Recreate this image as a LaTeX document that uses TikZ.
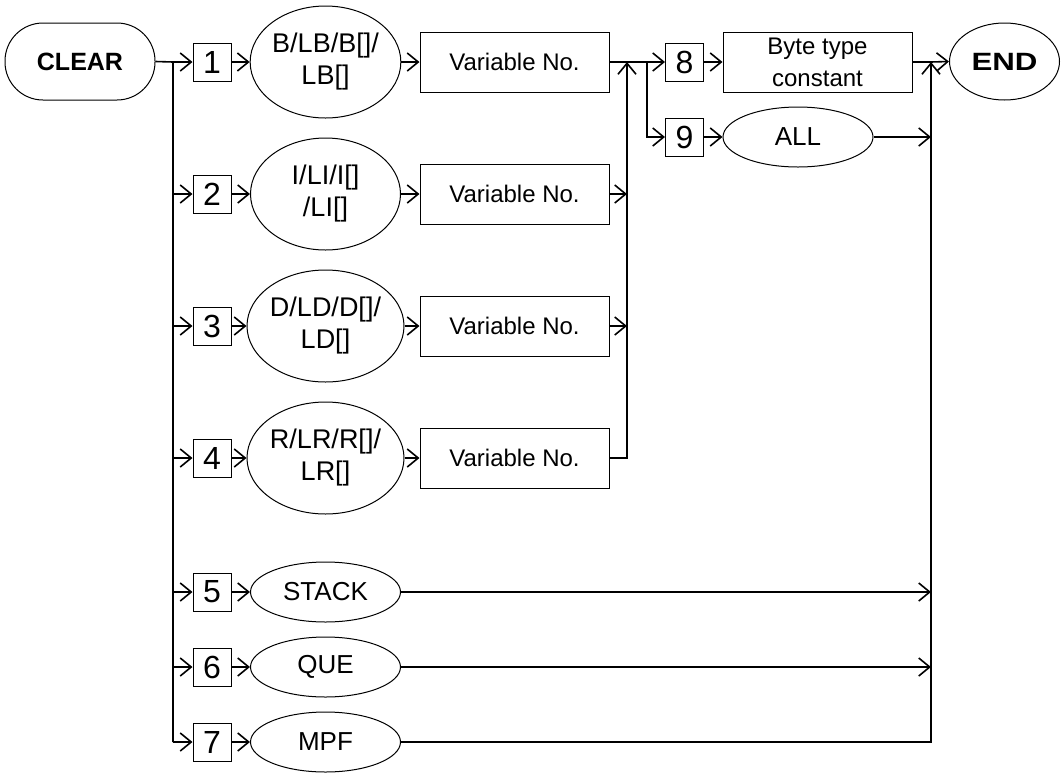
\documentclass[tikz,border=0pt]{standalone}
\usepackage{graphicx}
\usepackage{fontspec}
\setmainfont{Liberation Sans}
\usetikzlibrary{arrows.meta,positioning,shapes.geometric}

\tikzset{
  numbox/.style={draw, line width=1pt, minimum width=38pt, minimum height=38pt, inner sep=0pt, font=\fontsize{32}{32}\selectfont},
  tallell/.style={draw, ellipse, line width=1pt, minimum width=150pt, minimum height=112pt, inner sep=0pt, align=center, font=\fontsize{27}{32}\selectfont},
  flatell/.style={draw, ellipse, line width=1pt, minimum width=150pt, minimum height=60pt, inner sep=0pt, font=\fontsize{26}{30}\selectfont},
  varbox/.style={draw, line width=1pt, minimum width=189pt, minimum height=60pt, inner sep=0pt, align=center, font=\fontsize{24}{32}\selectfont},
  conn/.style={line width=1.6pt},
  arr/.style={conn, -{Straight Barb[length=11pt,width=18pt]}},
}

\begin{document}
\begin{tikzpicture}[x=1pt, y=-1pt]
  \useasboundingbox (0,0) rectangle (1061,772);

  % start and end
  \node[draw, line width=1pt, rounded corners=38pt, minimum width=150pt, minimum height=77pt, font=\bfseries\fontsize{25}{25}\selectfont] (clear) at (80,61.5) {CLEAR};
  \node[draw, ellipse, line width=1pt, minimum width=110pt, minimum height=77pt, inner sep=0pt, font=\bfseries\fontsize{25}{25}\selectfont] (stop) at (1004.5,61.5) {\scalebox{1.25}[1]{END}};

  % numbered boxes
  \foreach \i/\y in {1/62,2/194,3/326,4/458,5/592,6/667,7/742}
    \node[numbox] (n\i) at (212,\y) {\i};
  \node[numbox] (n8) at (684.5,62) {8};
  \node[numbox] (n9) at (684.5,137) {9};

  % variable types
  \node[tallell] (e1) at (325.5,62) {B/LB/B[]/\\LB[]};
  \node[tallell] (e2) at (325.5,194) {I/LI/I[]\\/LI[]};
  \node[tallell] (e3) at (325.5,326) {D/LD/D[]/\\LD[]};
  \node[tallell] (e4) at (325.5,458) {R/LR/R[]/\\LR[]};
  \foreach \i/\y in {1/62,2/194,3/326,4/458}
    \node[varbox] (v\i) at (514.5,\y) {Variable No.};

  % other targets
  \node[flatell] (e5) at (325.5,592) {STACK};
  \node[flatell] (e6) at (325.5,667) {QUE};
  \node[flatell] (e7) at (325.5,742) {MPF};
  \node[varbox] (byte) at (817.5,62) {Byte type\\constant};
  \node[flatell] (all) at (798,137) {ALL};

  % junction points
  \coordinate (split) at (173,62);
  \coordinate (merge) at (627,62);
  \coordinate (fork) at (647,62);
  \coordinate (join) at (931,62);

  % left trunk
  \draw[conn] (clear.east) -- (split) -- (split |- n7.west);
  \foreach \i in {1,...,7} {
    \draw[arr] (split |- n\i.west) -- (n\i.west);
    \draw[arr] (n\i.east) -- (e\i.west);
  }
  \foreach \i in {1,...,4}
    \draw[arr] (e\i.east) -- (v\i.west);

  % middle collector
  \draw[conn] (v1.east) -- (fork);
  \foreach \i in {2,3}
    \draw[arr] (v\i.east) -- (merge |- v\i.east);
  \draw[arr] (v4.east) -- (merge |- v4.east) -- (merge);
  \draw[arr] (fork) -- (n8.west);
  \draw[arr] (fork) |- (n9.west);
  \draw[arr] (n8.east) -- (byte.west);
  \draw[arr] (n9.east) -- (all.west);

  % right collector
  \draw[conn] (byte.east) -- (join);
  \draw[arr] (join) -- (stop.west);
  \draw[arr] (all.east) -- (join |- all.east);
  \foreach \i in {5,6}
    \draw[arr] (e\i.east) -- (join |- e\i.east);
  \draw[arr] (e7.east) -- (join |- e7.east) -- (join);
\end{tikzpicture}
\end{document}
